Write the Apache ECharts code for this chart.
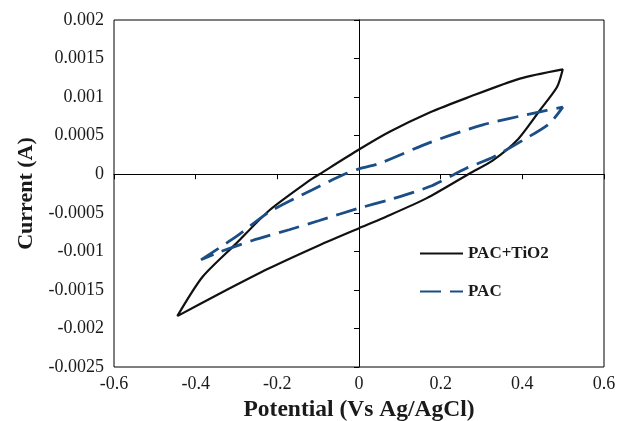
<!DOCTYPE html>
<html><head><meta charset="utf-8">
<script src="https://cdn.jsdelivr.net/npm/echarts@6/dist/echarts.min.js"></script>
<style>html,body{margin:0;padding:0;background:#fff}#c{width:627px;height:421px}</style>
</head><body><div id="c"></div>
<script>
// PAC+TiO2 cycle (x potential V, y current A)
const tio2X = [-0.445,-0.383,-0.301,-0.22,-0.121,-0.097,0.0,0.075,0.173,0.264,0.394,0.499,
  0.485,0.443,0.387,0.328,0.271,0.166,0.058,0.0,-0.097,-0.22,-0.342,-0.445];
const tio2Y = [-0.00184,-0.00133,-0.00090,-0.00047,-0.00008,0.0,0.00032,0.00055,0.00080,0.00099,0.00124,0.00136,
  0.00113,0.00083,0.00044,0.00018,0.00001,-0.00031,-0.00057,-0.00070,-0.00092,-0.00122,-0.00155,-0.00184];
// PAC cycle
const pacX = [-0.387,-0.301,-0.22,-0.114,-0.04,0.0,0.05,0.173,0.303,0.426,0.499,
  0.467,0.401,0.328,0.264,0.173,0.075,0.0,-0.097,-0.171,-0.261,-0.342,-0.387];
const pacY = [-0.00111,-0.00081,-0.00049,-0.00020,-0.00001,0.00007,0.00014,0.00041,0.00064,0.00079,0.00087,
  0.00066,0.00044,0.00022,0.00008,-0.00016,-0.00033,-0.00044,-0.00060,-0.00072,-0.00086,-0.00101,-0.00111];
const xTicks = [-0.6,-0.4,-0.2,0,0.2,0.4,0.6];
const yTicks = [-0.0025,-0.002,-0.0015,-0.001,-0.0005,0,0.0005,0.001,0.0015,0.002];
const seriesNames = ['PAC+TiO2','PAC'];

const zip = (xs, ys) => xs.map((x, i) => [x, ys[i]]);
const font = '"Liberation Serif","Times New Roman",serif';
const chart = echarts.init(document.getElementById('c'));
const xMin = xTicks[0], xMax = xTicks[xTicks.length-1];
const yMin = yTicks[0], yMax = yTicks[yTicks.length-1];
chart.setOption({
  animation: false,
  grid: {left: 114, right: 23, top: 20, bottom: 54, show: true, borderColor: '#000', borderWidth: 1,
         outerBoundsMode: 'none', containLabel: false},
  legend: {
    orient: 'vertical', left: 414, top: 240, itemGap: 21, itemWidth: 43, itemHeight: 17,
    itemStyle: {opacity: 0},
    textStyle: {fontFamily: font, fontWeight: 'bold', fontSize: 17, color: '#1a1a1a'},
    data: seriesNames
  },
  xAxis: [
    {type: 'value', min: xMin, max: xMax, interval: 0.2, position: 'bottom',
     axisLine: {show: false, onZero: false}, axisTick: {show: false}, splitLine: {show: false},
     axisLabel: {margin: 8, fontFamily: font, fontSize: 18, color: '#1a1a1a',
       formatter: v => String(Math.round(v*10)/10)},
     name: 'Potential (Vs Ag/AgCl)', nameLocation: 'middle', nameGap: 30,
     nameTextStyle: {fontFamily: font, fontWeight: 'bold', fontSize: 23.5, color: '#1a1a1a'}},
    {type: 'value', min: xMin, max: xMax, interval: 0.2, position: 'bottom',
     axisLine: {show: true, onZero: true, onZeroAxisIndex: 1, lineStyle: {color: '#000', width: 1}},
     axisTick: {show: true, length: 5, lineStyle: {color: '#000'}},
     axisLabel: {show: false}, splitLine: {show: false}}
  ],
  yAxis: [
    {type: 'value', min: yMin, max: yMax, interval: 0.0005, position: 'left',
     axisLine: {show: false, onZero: false}, axisTick: {show: false}, splitLine: {show: false},
     axisLabel: {margin: 10, fontFamily: font, fontSize: 18, color: '#1a1a1a',
       formatter: v => String(Math.round(v*10000)/10000)},
     name: 'Current (A)', nameLocation: 'middle', nameGap: 77,
     nameTextStyle: {fontFamily: font, fontWeight: 'bold', fontSize: 22, color: '#1a1a1a'}},
    {type: 'value', min: yMin, max: yMax, interval: 0.0005, position: 'left',
     axisLine: {show: true, onZero: true, onZeroAxisIndex: 1, lineStyle: {color: '#000', width: 1}},
     axisTick: {show: true, length: 5, lineStyle: {color: '#000'}},
     axisLabel: {show: false}, splitLine: {show: false}}
  ],
  series: [
    {name: seriesNames[0], type: 'line', xAxisIndex: 0, yAxisIndex: 0, showSymbol: false, symbol: 'none',
     smooth: 0.25, data: zip(tio2X, tio2Y), lineStyle: {color: '#111', width: 2.2}, itemStyle: {color: '#111'}},
    {name: seriesNames[1], type: 'line', xAxisIndex: 0, yAxisIndex: 0, showSymbol: false, symbol: 'none',
     smooth: 0.25, data: zip(pacX, pacY), lineStyle: {color: '#1b4e86', width: 2.8, type: [21, 9]}, itemStyle: {color: '#1b4e86'}}
  ]
});
</script></body></html>
